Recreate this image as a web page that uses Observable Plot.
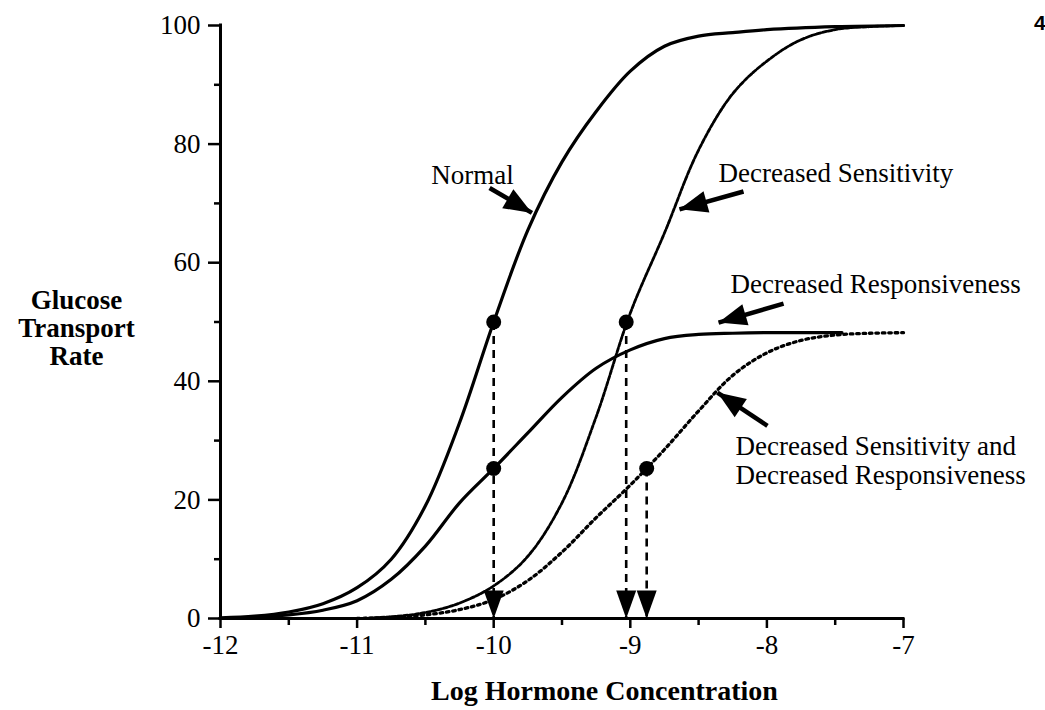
<!DOCTYPE html>
<html><head><meta charset="utf-8">
<script src="https://cdn.jsdelivr.net/npm/d3@7"></script>
<script src="https://cdn.jsdelivr.net/npm/@observablehq/plot@0.6"></script>
<style>html,body{margin:0;padding:0;background:#fff;} #chart{width:1045px;height:710px;overflow:hidden;}</style>
</head><body><div id="chart"></div>
<script>
// ---------- data ----------
const xTicks = [-12, -11, -10, -9, -8, -7];
const xTickLabels = ["-12", "-11", "-10", "-9", "-8", "-7"];
const xMinorTicks = [-11.5, -10.5, -9.5, -8.5, -7.5];
const yTicks = [0, 20, 40, 60, 80, 100];
const yTickLabels = ["0", "20", "40", "60", "80", "100"];
const yMinorTicks = [10, 30, 50, 70, 90];

const normalX = [-12, -11.75, -11.5, -11.25, -11, -10.75, -10.5, -10.25, -10, -9.75, -9.5, -9.25, -9, -8.75, -8.5, -8.25, -8, -7.5, -7];
const normalY = [0.1, 0.4, 1.1, 2.5, 5.2, 10, 19, 33, 50, 65.5, 77, 85.5, 92.3, 96.5, 98.2, 98.8, 99.3, 99.8, 100];

const sensX = [-11, -10.75, -10.5, -10.25, -10, -9.75, -9.5, -9.25, -9, -8.75, -8.5, -8.25, -8, -7.75, -7.5, -7.25, -7];
const sensY = [0, 0.3, 1.0, 2.6, 5.5, 10.5, 19.5, 34, 51.5, 65, 79, 88.5, 94, 97.6, 99.3, 99.8, 100];

const respX = [-12, -11.75, -11.5, -11.25, -11, -10.75, -10.5, -10.25, -10, -9.75, -9.5, -9.25, -9, -8.75, -8.5, -8.25, -8, -7.45];
const respY = [0, 0.2, 0.6, 1.4, 3.0, 6.6, 12.2, 19.5, 25.3, 31.3, 37.3, 42.2, 45.3, 47.2, 47.9, 48.1, 48.2, 48.2];

const bothX = [-11, -10.75, -10.5, -10.25, -10, -9.75, -9.5, -9.25, -9, -8.75, -8.5, -8.25, -8, -7.75, -7.5, -7.25, -7];
const bothY = [0, 0.2, 0.6, 1.5, 3.2, 6.4, 11.2, 17, 22.5, 28.5, 35, 41, 44.8, 46.9, 47.8, 48.1, 48.2];

// half-maximal points and their drop lines
const pointX = [-10, -10, -9.03, -8.88];
const pointY = [50, 25.3, 50, 25.3];
const dropX = [-10, -9.03, -8.88];
const dropTop = [50, 50, 25.3];

// annotations (data coordinates)
const labelText = ["Normal", "Decreased Sensitivity", "Decreased Responsiveness", "Decreased Sensitivity and\nDecreased Responsiveness"];
const labelX = [-10.155, -8.354, -8.266, -8.23];
const labelY = [74.8, 75.0, 56.4, 26.7];
const arrowTailX = [-10.03, -8.171, -7.878, -7.996];
const arrowTailY = [72.6, 72.0, 53.1, 32.5];
const arrowTipX = [-9.72, -8.64, -8.354, -8.362];
const arrowTipY = [68.4, 69.0, 49.9, 38.1];

const xTitle = "Log Hormone Concentration";
const yTitle = "Glucose\nTransport\nRate";
const pageNumber = "4";

// ---------- layout ----------
const W = 1045, H = 710, mL = 220, mR = 142, mT = 25, mB = 92;
const xDomain = [-12, -7], yDomain = [0, 100];
const sx = Plot.scale({x: {domain: xDomain, range: [mL, W - mR]}});
const sy = Plot.scale({y: {domain: yDomain, range: [H - mB, mT]}});

function headSymbol(angleDeg, len, hw) {
  const a = angleDeg * Math.PI / 180, c = Math.cos(a), s = Math.sin(a);
  const pt = (u, v) => [u * c - v * s, u * s + v * c];
  return {draw(ctx) {
    const p1 = pt(-len, -hw), p2 = pt(-len, hw);
    ctx.moveTo(0, 0); ctx.lineTo(p1[0], p1[1]); ctx.lineTo(p2[0], p2[1]); ctx.closePath();
  }};
}

const toRows = (xs, ys) => xs.map((x, i) => ({x, y: ys[i]}));
const normal = toRows(normalX, normalY);
const sens = toRows(sensX, sensY);
const resp = toRows(respX, respY);
const both = toRows(bothX, bothY);
const points = toRows(pointX, pointY);
const drops = dropX.map((x, i) => ({x, y1: dropTop[i], y2: 0}));
const arrows = arrowTailX.map((x, i) => ({x1: x, y1: arrowTailY[i], x2: arrowTipX[i], y2: arrowTipY[i]}));
const labels = labelText.map((t, i) => ({text: t, x: labelX[i], y: labelY[i]}));

const serif = "'Liberation Serif', 'Times New Roman', serif";

const marks = [
  // axes
  Plot.ruleY([0], {strokeWidth: 3, strokeLinecap: "square"}),
  Plot.ruleX([-12], {strokeWidth: 3, strokeLinecap: "square"}),
  Plot.axisX({ticks: xTicks, tickFormat: d => xTickLabels[xTicks.indexOf(d)], tickSize: 10, tickPadding: 6, strokeWidth: 2.5, fontSize: 27, fontFamily: serif, fontVariant: "normal", label: null}),
  Plot.axisX({ticks: xMinorTicks, tickFormat: () => "", tickSize: 7, strokeWidth: 2.5, label: null}),
  Plot.axisY({ticks: yTicks, tickFormat: d => yTickLabels[yTicks.indexOf(d)], tickSize: 12, tickPadding: 8, strokeWidth: 2.5, fontSize: 27, fontFamily: serif, fontVariant: "normal", label: null}),
  Plot.axisY({ticks: yMinorTicks, tickFormat: () => "", tickSize: 6, strokeWidth: 2.5, label: null}),
  // drop lines
  Plot.link(drops, {x1: "x", x2: "x", y1: "y1", y2: "y2", strokeWidth: 2.6, strokeDasharray: "8,6"}),
  Plot.dot(drops, {x: "x", y: "y2", symbol: headSymbol(90, 28, 10), fill: "black", stroke: "none"}),
  // curves
  Plot.line(normal, {x: "x", y: "y", curve: "catmull-rom", strokeWidth: 3.2}),
  Plot.line(resp, {x: "x", y: "y", curve: "catmull-rom", strokeWidth: 3.2}),
  Plot.line(sens, {x: "x", y: "y", curve: "catmull-rom", strokeWidth: 2.8, strokeDasharray: "4,1.8"}),
  Plot.line(both, {x: "x", y: "y", curve: "catmull-rom", strokeWidth: 3.3, strokeDasharray: "2.6,3.8"}),
  Plot.dot(points, {x: "x", y: "y", r: 7.5, fill: "black", stroke: "none"}),
  // annotation arrows
  Plot.link(arrows, {x1: "x1", y1: "y1", x2: "x2", y2: "y2", strokeWidth: 4.5}),
  ...arrows.map(a => {
    const ang = Math.atan2(sy.apply(a.y2) - sy.apply(a.y1), sx.apply(a.x2) - sx.apply(a.x1)) * 180 / Math.PI;
    return Plot.dot([a], {x: "x2", y: "y2", symbol: headSymbol(ang, 28, 11), fill: "black", stroke: "none"});
  }),
  // labels
  Plot.text(labels.slice(0, 1), {x: "x", y: "y", text: "text", textAnchor: "middle", fontSize: 27}),
  Plot.text(labels.slice(1, 3), {x: "x", y: "y", text: "text", textAnchor: "start", fontSize: 27}),
  Plot.text(labels.slice(3), {x: "x", y: "y", text: "text", textAnchor: "start", fontSize: 27, lineHeight: 1.074}),
  // titles
  Plot.text([{text: xTitle, x: -9.189, y: 0}], {x: "x", y: "y", text: "text", dy: 73, fontSize: 28, fontWeight: "bold", textAnchor: "middle"}),
  Plot.text([{text: yTitle, x: -12, y: 49.0}], {x: "x", y: "y", text: "text", dx: -144, fontSize: 27, fontWeight: "bold", textAnchor: "middle", lineHeight: 1.03}),
  Plot.text([{text: pageNumber, x: -5.96, y: 100.3}], {x: "x", y: "y", text: "text", fontSize: 21, fontWeight: "bold", textAnchor: "end", fontFamily: "'Liberation Sans', Arial, sans-serif"})
];

const chart = Plot.plot({
  width: W, height: H,
  marginLeft: mL, marginRight: mR, marginTop: mT, marginBottom: mB,
  x: {domain: xDomain},
  y: {domain: yDomain},
  style: {fontFamily: serif, fontSize: "27px", background: "white", color: "black", overflow: "visible"},
  marks
});
document.getElementById("chart").appendChild(chart);
</script>
</body></html>
